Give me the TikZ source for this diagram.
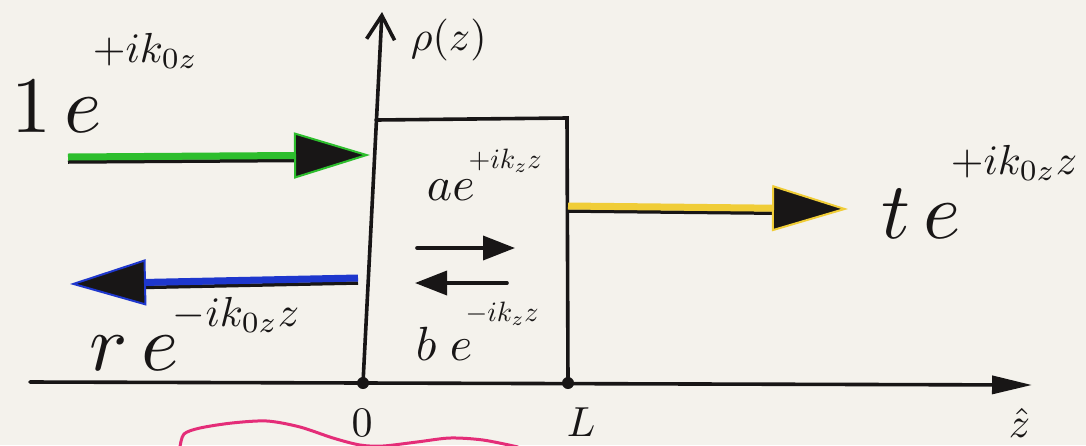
\documentclass[tikz,border=0pt]{standalone}
\usepackage{amsmath}
\usetikzlibrary{arrows.meta,calc}
\definecolor{ink}{RGB}{24,22,22}
\definecolor{paper}{RGB}{244,242,236}
\definecolor{lime}{RGB}{45,190,45}
\definecolor{cobalt}{RGB}{30,55,205}
\definecolor{amber}{RGB}{240,205,55}
\definecolor{rose}{RGB}{228,45,120}
\tikzset{
  axis/.style={draw=ink,line width=3.6pt,line cap=round},
  wave/.style={draw=#1,line width=7pt,-{Triangle[length=76pt,width=46pt,fill=ink,line width=2pt]}},
  under/.style={draw=ink,line width=3.5pt,transform canvas={yshift=-5pt}},
  dot/.style={circle,fill=ink,inner sep=0pt,minimum size=12pt},
  lbl/.style={font=\normalsize,inner sep=0pt,anchor=base west,text=ink,scale=#1},
  big/.style={lbl=8},
  sup/.style={lbl=4.2},
  mid/.style={lbl=4.8},
  msup/.style={lbl=2.8}
}

\begin{document}
\begin{tikzpicture}[x=1pt,y=-1pt]
  \fill[paper] (0,0) rectangle (1086,445);
  \useasboundingbox (0,0) rectangle (1086,445);

  % axes and slab
  \coordinate (O) at (363,383);
  \coordinate (L) at (568,383);
  \coordinate (zl) at (30,382);
  \coordinate (zr) at (1032,385);
  \coordinate (ptop) at (382,12);
  \coordinate (tl) at (376,120);
  \coordinate (tr) at (567,118);
  \draw[axis,-{Triangle[length=40pt,width=18pt]}] (zl) -- (zr);
  \draw[axis,-{Straight Barb[length=24pt,width=28pt]}] (O) -- (ptop);
  \draw[axis] (tl) -- (tr) -- (L);
  \node[dot] (o) at (O) {};
  \node[dot] (l) at (L) {};

  % incident, reflected, transmitted
  \coordinate (inA) at (68,157);
  \coordinate (inB) at (370,155);
  \draw[under] (inA) -- ($(inA)!.8!(inB)$);
  \draw[wave=lime] (inA) -- (inB);
  \coordinate (reA) at (358,278);
  \coordinate (reB) at (70,284);
  \draw[under] (reA) -- ($(reA)!.8!(reB)$);
  \draw[wave=cobalt] (reA) -- (reB);
  \coordinate (trA) at (568,206);
  \coordinate (trB) at (848,209);
  \draw[under] (trA) -- ($(trA)!.8!(trB)$);
  \draw[wave=amber] (trA) -- (trB);

  % inside the slab
  \coordinate (fwA) at (417,248);
  \coordinate (fwB) at (515,248);
  \coordinate (bwA) at (507,283);
  \coordinate (bwB) at (415,283);
  \draw[axis,-{Triangle[length=32pt,width=24pt]}] (fwA) -- (fwB);
  \draw[axis,-{Triangle[length=32pt,width=24pt]}] (bwA) -- (bwB);

  % labels
  \node[big] (one) at (10,132) {$1\,e$};
  \node[sup] (onex) at (92,62) {$+ik_{0z}$};
  \node[big] (r) at (88,370) {$r\,e$};
  \node[sup] (rx) at (172,326) {$-ik_{0z}z$};
  \node[big] (t) at (880,238) {$t\,e$};
  \node[sup] (tx) at (950,174) {$+ik_{0z}z$};
  \node[mid] (a) at (426,200) {$ae$};
  \node[msup] (ax) at (468,168) {$+ik_z z$};
  \node[mid] (b) at (415,360) {$b\;e$};
  \node[msup] (bx) at (465,321) {$-ik_z z$};
  \node[sup] (rho) at (410,50) {$\rho(z)$};
  \node[sup,anchor=base] (zero) at (362,436) {$0$};
  \node[sup] (ell) at (566,436) {$L$};
  \node[sup] (zhat) at (1008,437) {$\hat z$};

  % pink scribble
  \draw[rose,line width=3pt,line cap=round] plot[smooth] coordinates {(180,447) (184,434) (200,428) (232,423) (267,421) (300,427) (333,438) (360,445) (383,446) (417,442) (450,438) (483,440) (518,447)};
\end{tikzpicture}
\end{document}
